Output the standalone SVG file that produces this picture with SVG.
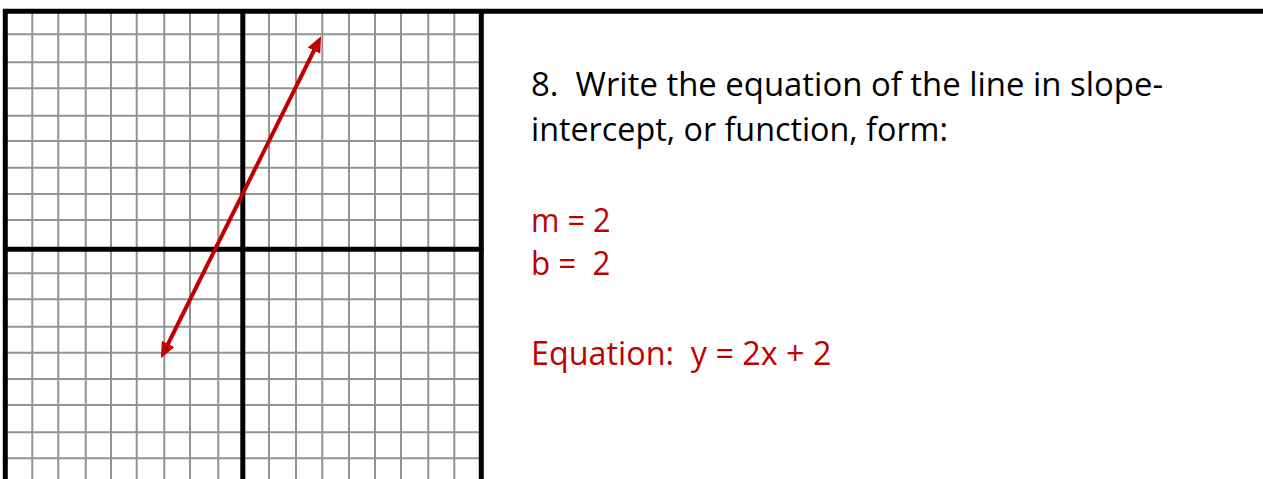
<svg xmlns="http://www.w3.org/2000/svg" width="1263" height="479" viewBox="0 0 1263 479">
<style>
.grid line{stroke:#939393;stroke-width:2}
.bold line{stroke:#000;stroke-width:5}
.q{font-family:"Open Sans","Noto Sans",sans-serif;font-size:33px;fill:#000}
.a{font-family:"Open Sans","Noto Sans",sans-serif;font-size:33px;fill:#C00000}
</style>
<defs>
<marker id="ah" markerUnits="userSpaceOnUse" markerWidth="18" markerHeight="16" refX="8" refY="7" orient="auto-start-reverse">
<path d="M0,0 L16,7 L0,14 z" fill="#C00000"/>
</marker>
</defs>
<rect width="1263" height="479" fill="#fff"/>
<g id="grid" class="grid">
<line x1="32.3" y1="11" x2="32.3" y2="479"/>
<line x1="58.3" y1="11" x2="58.3" y2="479"/>
<line x1="85.7" y1="11" x2="85.7" y2="479"/>
<line x1="111" y1="11" x2="111" y2="479"/>
<line x1="136.7" y1="11" x2="136.7" y2="479"/>
<line x1="164.3" y1="11" x2="164.3" y2="479"/>
<line x1="190" y1="11" x2="190" y2="479"/>
<line x1="218.3" y1="11" x2="218.3" y2="479"/>
<line x1="269" y1="11" x2="269" y2="479"/>
<line x1="296" y1="11" x2="296" y2="479"/>
<line x1="322.3" y1="11" x2="322.3" y2="479"/>
<line x1="349" y1="11" x2="349" y2="479"/>
<line x1="375" y1="11" x2="375" y2="479"/>
<line x1="401" y1="11" x2="401" y2="479"/>
<line x1="428.3" y1="11" x2="428.3" y2="479"/>
<line x1="454.3" y1="11" x2="454.3" y2="479"/>
<line x1="5" y1="34.3" x2="482" y2="34.3"/>
<line x1="5" y1="62.3" x2="482" y2="62.3"/>
<line x1="5" y1="88.3" x2="482" y2="88.3"/>
<line x1="5" y1="115.7" x2="482" y2="115.7"/>
<line x1="5" y1="141" x2="482" y2="141"/>
<line x1="5" y1="167.7" x2="482" y2="167.7"/>
<line x1="5" y1="194" x2="482" y2="194"/>
<line x1="5" y1="220" x2="482" y2="220"/>
<line x1="5" y1="273.3" x2="482" y2="273.3"/>
<line x1="5" y1="299.3" x2="482" y2="299.3"/>
<line x1="5" y1="326.7" x2="482" y2="326.7"/>
<line x1="5" y1="352.7" x2="482" y2="352.7"/>
<line x1="5" y1="379" x2="482" y2="379"/>
<line x1="5" y1="405" x2="482" y2="405"/>
<line x1="5" y1="432.3" x2="482" y2="432.3"/>
<line x1="5" y1="458.3" x2="482" y2="458.3"/>
</g>
<g id="frame" class="bold">
<line x1="3" y1="11.2" x2="1263" y2="11.2"/>
<line x1="5.3" y1="9" x2="5.3" y2="479"/>
<line x1="242.8" y1="9" x2="242.8" y2="479"/>
<line x1="481.3" y1="9" x2="481.3" y2="479"/>
<line x1="3" y1="249.3" x2="483.5" y2="249.3"/>
</g>
<g id="connectors">
<line x1="317.5" y1="43.5" x2="164.5" y2="351" stroke="#C00000" stroke-width="4" marker-start="url(#ah)" marker-end="url(#ah)"/>
</g>
<g id="question">
<text class="q" x="531" y="96" textLength="632" lengthAdjust="spacingAndGlyphs" xml:space="preserve">8.  Write the equation of the line in slope-</text>
<text class="q" x="531" y="141" textLength="417" lengthAdjust="spacingAndGlyphs">intercept, or function, form:</text>
</g>
<g id="answer">
<text class="a" x="531" y="231.7" textLength="79.5" lengthAdjust="spacingAndGlyphs">m = 2</text>
<text class="a" x="531" y="275" textLength="79.5" lengthAdjust="spacingAndGlyphs" xml:space="preserve">b =  2</text>
<text class="a" x="531" y="365" textLength="300.5" lengthAdjust="spacingAndGlyphs" xml:space="preserve">Equation:  y = 2x + 2</text>
</g>
</svg>
